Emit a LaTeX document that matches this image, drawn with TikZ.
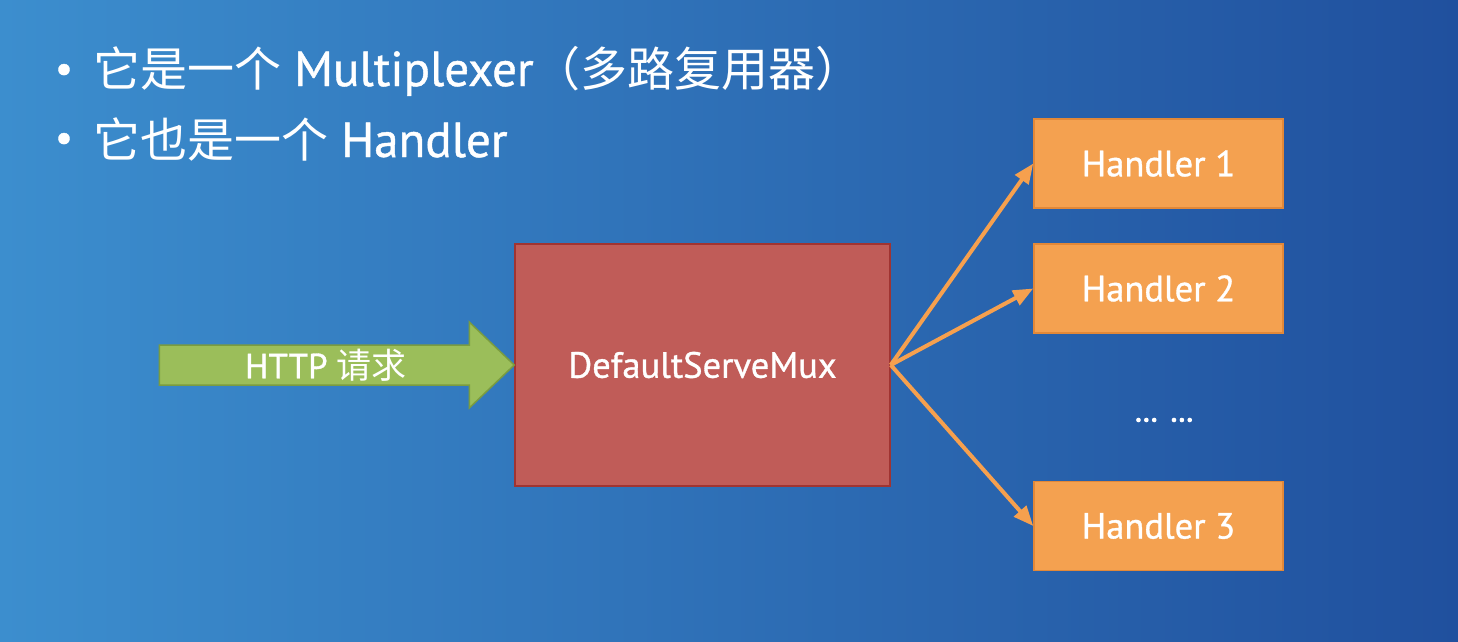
\documentclass[tikz,border=0pt]{standalone}
\usepackage{fontspec}
\setmainfont{PT Sans}[FakeBold=0.9]
\newfontfamily\cjk{Noto Sans CJK SC}
\newfontfamily\dotfont{PT Sans}[FakeBold=3]
\usetikzlibrary{arrows.meta,calc}
\definecolor{bgA}{RGB}{60,142,206}
\definecolor{bgB}{RGB}{32,80,158}
\definecolor{muxfill}{RGB}{192,92,88}
\definecolor{muxline}{RGB}{160,52,50}
\definecolor{hfill}{RGB}{244,161,80}
\definecolor{hline}{RGB}{226,136,56}
\definecolor{gfill}{RGB}{155,190,90}
\definecolor{gline}{RGB}{122,156,64}
\definecolor{arr}{RGB}{246,160,78}
\tikzset{
  bullettext/.style={text=white, font=\fontsize{49}{52}\selectfont, inner sep=0pt},
  bulletmark/.style={text=white, font=\fontsize{40}{44}\selectfont, inner sep=0pt},
  hbox/.style={draw=hline, line width=1.5pt, fill=hfill, minimum width=249pt, minimum height=89pt, text=white, font=\fontsize{36.5}{40}\selectfont, inner sep=0pt},
  muxbox/.style={draw=muxline, line width=1.5pt, fill=muxfill, minimum width=375pt, minimum height=242pt, text=white, font=\fontsize{36.5}{40}\selectfont, inner sep=0pt},
  link/.style={draw=arr, line width=4pt, -{Triangle[length=20pt,width=16pt]}},
}
\newcommand{\zh}[1]{{\fontsize{47}{52}\selectfont\cjk #1}}
\begin{document}
\begin{tikzpicture}[x=1pt,y=-1pt]
\useasboundingbox (0,0) rectangle (1458,642);
\shade[left color=bgA, right color=bgB] (0,0) rectangle (1458,642);

% bullets
\node[bulletmark] (b1) at (64,73) {\textbullet};
\node[bullettext, anchor=base west] (t1) at (93,86) {\zh{它是一个} Multiplexer\zh{（多路复用器）}};
\node[bulletmark] (b2) at (64,142) {\textbullet};
\node[bullettext, anchor=base west] (t2) at (93,157) {\zh{它也是一个} Handler};

% mux
\node[muxbox] (mux) at (702.5,365) {DefaultServeMux};

% handlers
\node[hbox] (h1) at (1158.5,163.5) {Handler 1};
\node[hbox] (h2) at (1158.5,288.5) {Handler 2};
\node[hbox] (h3) at (1158.5,526) {Handler 3};
\node[text=white, font=\fontsize{31}{32}\selectfont\dotfont, inner sep=0pt] (dots) at (1164,420) {\dots\hspace{12pt}\dots};

% request arrow
\coordinate (tip) at (mux.west);
\fill[gfill, draw=gline, line width=1.5pt]
  ($(tip)+(-355,-20)$) -- ($(tip)+(-45,-20)$) -- ($(tip)+(-45,-43)$) -- (tip)
  -- ($(tip)+(-45,43)$) -- ($(tip)+(-45,20)$) -- ($(tip)+(-355,20)$) -- cycle;
\node[text=white, font=\fontsize{35}{38}\selectfont, inner sep=0pt] (req) at (326,365) {HTTP {\cjk 请求}};

% links
\draw[link] (mux.east) -- (h1.west);
\draw[link] (mux.east) -- (h2.west);
\draw[link] (mux.east) -- (h3.west);
\end{tikzpicture}
\end{document}
